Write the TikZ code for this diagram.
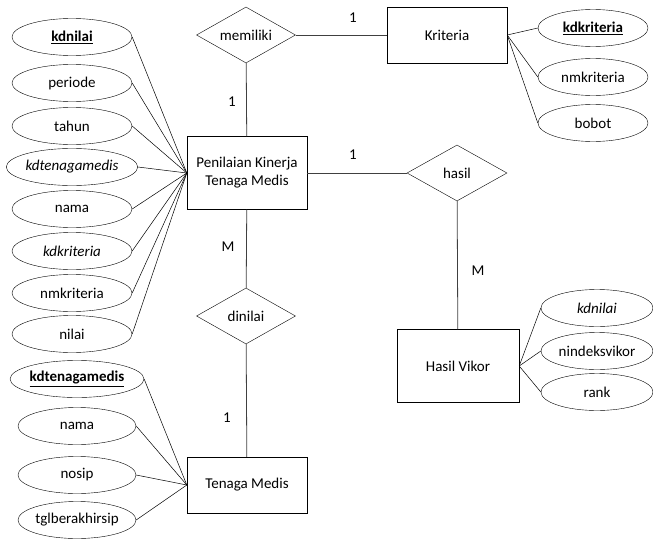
\documentclass[tikz,border=0pt]{standalone}
\usepackage{fontspec}
\setmainfont{Carlito}
\usetikzlibrary{shapes.geometric}
\usetikzlibrary{positioning}

\tikzset{
  entity/.style={draw, thin, minimum width=120pt, minimum height=73pt, align=center},
  attr/.style={draw, thin, ellipse, inner sep=0pt, minimum width=120pt, minimum height=37pt},
  relation/.style={draw, thin, diamond, aspect=1.75, inner sep=0pt, minimum width=99pt, minimum height=56pt},
  link/.style={line width=0.8pt, black!75},
  attrlink/.style={line width=0.5pt}
}

\begin{document}
\begin{tikzpicture}[x=1pt, y=-1pt, font=\fontsize{15}{18}\selectfont]
      % Canvas
      \useasboundingbox (0,0) rectangle (653,538);

      % Entities
      \node[entity] (pktm) at (247,173) {Penilaian Kinerja\\Tenaga Medis};
      \node[entity, minimum height=56pt] (kriteria) at (447,35) {Kriteria};
      \node[entity, minimum width=122pt] (vikor) at (458,366) {Hasil Vikor};
      \node[entity, minimum height=56pt] (tm) at (247,485) {Tenaga Medis};

      % Relations
      \node[relation] (memiliki) at (246,35) {memiliki};
      \node[relation, minimum width=100pt] (hasil) at (457,173) {hasil};
      \node[relation] (dinilai) at (246,316) {dinilai};

      % Attributes of Penilaian Kinerja Tenaga Medis
      \node[attr] (a1) at (72,37) {\underline{\textbf{kdnilai}}};
      \node[attr] (a2) at (72,83) {periode};
      \node[attr] (a3) at (72,126) {tahun};
      \node[attr] (a4) at (72,167) {\textit{kdtenagamedis}};
      \node[attr] (a5) at (72,209) {nama};
      \node[attr] (a6) at (72,251) {\textit{kdkriteria}};
      \node[attr] (a7) at (72,293) {nmkriteria};
      \node[attr] (a8) at (72,334) {nilai};
      \foreach \i in {1,...,8}
        \draw[attrlink] (a\i.east) -- (pktm.west);

      % Attributes of Kriteria
      \node[attr, minimum width=110pt] (k1) at (593,28) {\underline{\textbf{kdkriteria}}};
      \node[attr, minimum width=110pt] (k2) at (593,77) {nmkriteria};
      \node[attr, minimum width=110pt] (k3) at (593,123) {bobot};
      \foreach \i in {1,2,3}
        \draw[attrlink] (kriteria.east) -- (k\i.west);

      % Attributes of Hasil Vikor
      \node[attr, minimum width=112pt] (v1) at (597,308) {\textit{kdnilai}};
      \node[attr, minimum width=112pt] (v2) at (597,351) {nindeksvikor};
      \node[attr, minimum width=112pt] (v3) at (597,392) {rank};
      \foreach \i in {1,2,3}
        \draw[attrlink] (vikor.east) -- (v\i.west);

      % Attributes of Tenaga Medis
      \node[attr, minimum width=118pt] (t1) at (77,379) {\underline{\textbf{kdtenagamedis}}};
      \node[attr, minimum width=118pt] (t2) at (77,426) {nama};
      \node[attr, minimum width=118pt] (t3) at (77,475) {nosip};
      \node[attr, minimum width=118pt] (t4) at (77,520) {tglberakhirsip};
      \foreach \i in {1,...,4}
        \draw[attrlink] (t\i.east) -- (tm.west);

      % Relationship lines
      \draw[link] (memiliki) -- (kriteria);
      \draw[link] (memiliki) -- (pktm);
      \draw[link] (pktm) -- (hasil);
      \draw[link] (hasil) -- (vikor);
      \draw[link] (pktm) -- (dinilai);
      \draw[link] (dinilai) -- (tm);

      % Cardinalities
      \node at (353,18) {1};
      \node at (232,102) {1};
      \node at (353,155) {1};
      \node at (478,271) {M};
      \node at (228,247) {M};
      \node at (227,418) {1};
    \end{tikzpicture}
\end{document}
